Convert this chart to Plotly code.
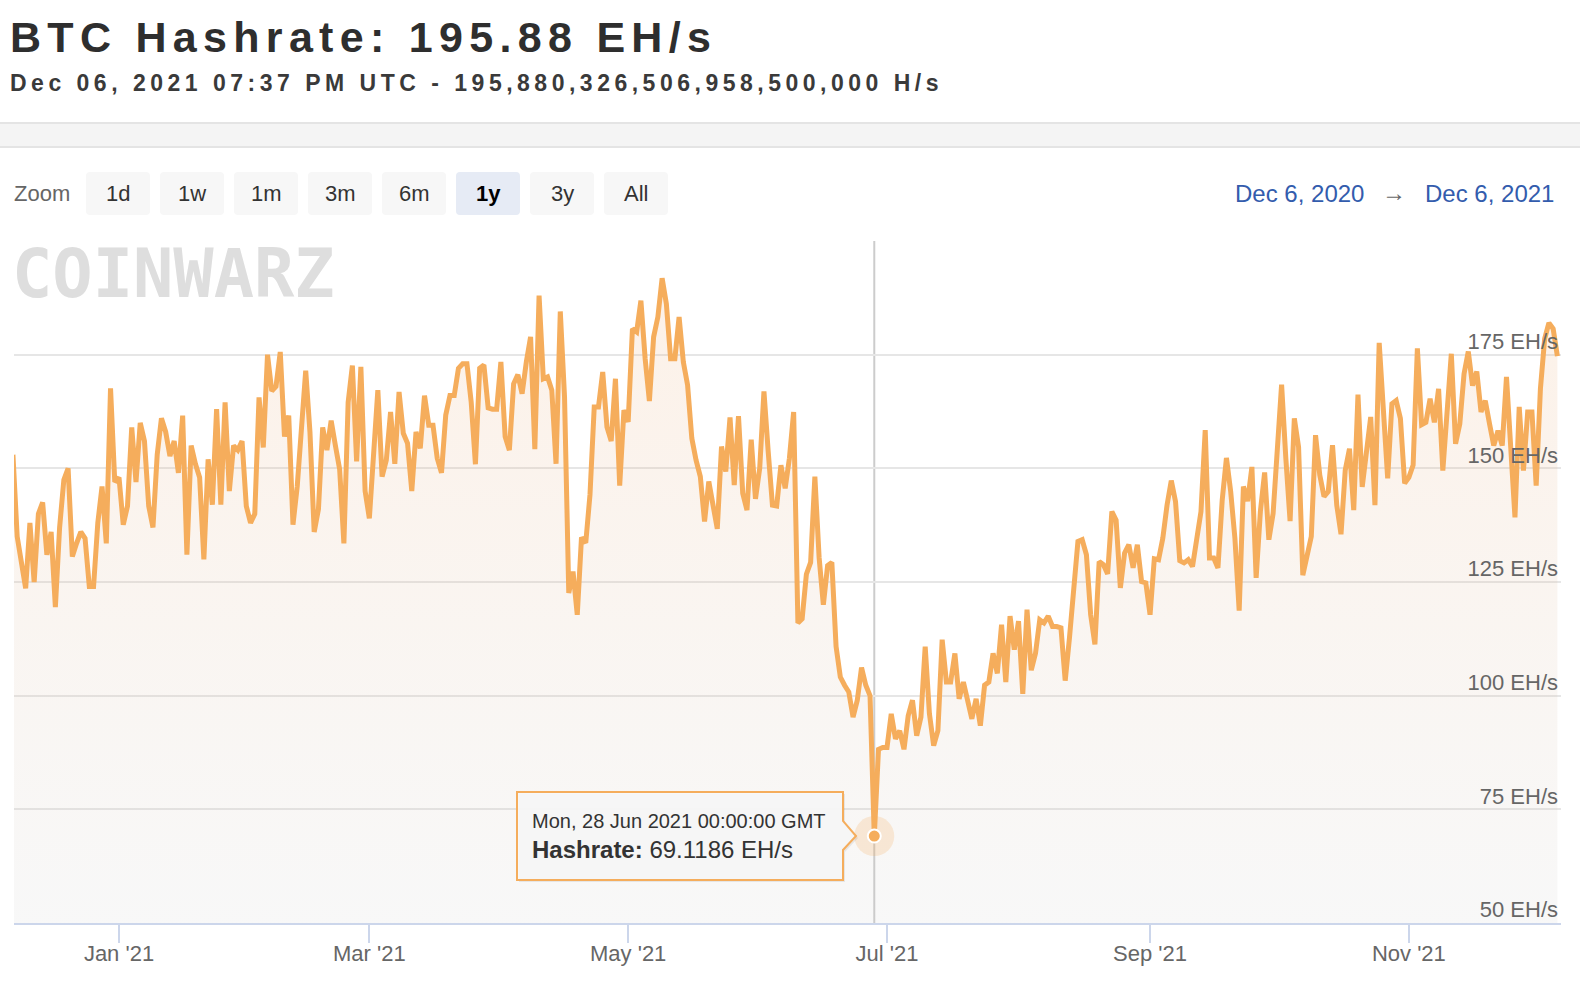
import pandas as pd
import plotly.graph_objects as go

# ---------------- data ----------------
start_date = "2020-12-07"
hashrate_ehs = [
    153, 135, None, 123.6, 138, 125, 140, 142.5, 131, 136,
    119.5, 137, 147.5, 150, 130.6, 133.5, 136, 134.6, 124, 124,
    138, 146, 133.5, 167.6, 147, 148, 137.6, 141.7, 159, 147,
    160, 156, 141.7, 137, 153, 161, 158, 152.7, 156, 149,
    161.6, 131, 155, 151, 148, 130, 152, 142, 163, 142,
    164.5, 145, 155, 154, 156, 141.7, 138, 140, 165.6, 154.6,
    175, 167, 168, 175.6, 157, 161.6, 137.6, 146, None, 171.5,
    158, 136, 141, 159, 154, 160.5, 155, 149.8, 133.5, 164.5,
    172.6, 151.5, 172.3, 145, 139, 151.5, 167.2, 148.2, 151.8, 162.4,
    151, 166.8, 157.7, 155.5, 145, 158, 154.4, 166, 159.5, 159.5,
    152.2, 149, 161.7, 166, 166, 172, 173, 173, 164.6, 150.9,
    172, 172.7, 163.3, 163, 163, 173.4, 157, 154, 168.6, 170.6,
    166.4, 173.4, 178.9, 154.2, 188, 169.7, 170.1, 167.2, 151, 184.5,
    165.7, 122.6, 127.3, 117.8, 134.8, 133.6, 144.2, 163.5, 163.5, 171.2,
    159.1, 156, 169.7, 146.2, 162.8, 160.2, 180.7, 180, 186.9, 174.1,
    164.8, 178.9, 183.3, 191.8, 186.2, 174.1, 174.1, 183.3, 173.4, 168.3,
    156.6, 151.8, 148.2, 138.3, 147.1, None, 136.7, 154.8, 149.3, 161.2,
    146.3, 161.5, 144.5, 140.8, 156.3, 143.3, 150, 166.9, 153.7, 141.9,
    141.7, 150.7, 145.6, 152.2, 162.4, 116, 116.9, 126.7, 129.3, 148.2,
    130.4, 120, 128.6, 129.3, 110.8, 104.1, 102.3, 100.8, 95.3, 99,
    106.2, 102.3, 100, 69.1186, 88.2, 88.6, 88.6, 96, 90.5, 92.3,
    88.2, 95.6, 99, 91.2, 95.3, 110.8, 96, 89, 92.3, 112.3,
    103, 103, 109.3, 99.3, 103, 99, 94.9, 99.3, 93.4, 102.3,
    103, 109.3, 104.9, 115.6, 103, 117.5, 110.1, 116.4, 100.4, 118.9,
    105.6, 109.3, 116.7, 116, 117.5, 115.2, 115.2, 114.9, 103.3, 112.7,
    125.1, 133.9, 134.3, 131, 117.8, 111.3, 129.5, 128.8, 126.8, 140.5,
    138.6, 123.7, 131.4, 133.2, 128.1, 133.2, 125.1, 124.8, 117.8, 130.1,
    129.9, 134.6, 141.9, 147.3, 142.7, 129.7, 129.2, 129.9, 128.4, 134.3,
    140.5, 158.4, 130.3, 130.3, 128.1, 143, 152.3, 144.9, 134.6, 118.7,
    146, 142.8, 150.3, 125.9, 140.5, 149.1, 134.3, 140.1, 154.7, 168.4,
    152.2, 138.4, 161, 154.7, 126.5, 130.3, 135, 157.3, 148.5, 143.8,
    144.9, 155.1, 141.9, 135.5, 149.6, 154.3, 140.8, 166.2, 145.9, 153.6,
    161.3, 141.9, 177.6, 162.7, 147.8, 164.2, 164.9, 161, 146.7, 148,
    150.7, 176.4, 159.6, 160.1, 165.3, 160.1, 167.5, 149.5, 163.1, 175.2,
    155.4, 159.8, 170.8, 175.7, 168.2, 171.3, 162.4, 164.9, 159.8, 155,
    158.3, 155, 170.1, 156.5, 139.2, 163.5, 149.5, 162.4, 162.4, 146.2,
    167.5, 178.5, 182, 180.7, 174.7,
]
dates = pd.date_range(start_date, periods=len(hashrate_ehs), freq="D")

y_tick_values = [50, 75, 100, 125, 150, 175, 200]
x_range = ["2020-12-07 06:00", "2021-12-06 20:24"]
highlight_date = "2021-06-28"

title_text = "BTC Hashrate: 195.88 EH/s"
subtitle_text = "Dec 06, 2021 07:37 PM UTC - 195,880,326,506,958,500,000 H/s"
zoom_buttons = ["1d", "1w", "1m", "3m", "6m", "1y", "3y", "All"]
active_button = "1y"
range_from_text = "Dec 6, 2020"
range_to_text = "Dec 6, 2021"
watermark_text = "COINWARZ"

# ---------------- styles / layout geometry ----------------
W, H = 1580, 995
L, R, T, B = 14, 1561, 241, 923
FONT = "Liberation Sans, Arial, sans-serif"
LINE = "#f5ad5c"


def px(x, y):
    return (x - L) / (R - L), (B - y) / (B - T)


def P(x, y):
    a, b = px(x, y)
    return f"{a:.5f},{b:.5f}"


def rrect(x0, y0, x1, y1, r):
    return (f"M {P(x0 + r, y0)} L {P(x1 - r, y0)} Q {P(x1, y0)} {P(x1, y0 + r)} "
            f"L {P(x1, y1 - r)} Q {P(x1, y1)} {P(x1 - r, y1)} L {P(x0 + r, y1)} "
            f"Q {P(x0, y1)} {P(x0, y1 - r)} L {P(x0, y0 + r)} Q {P(x0, y0)} {P(x0 + r, y0)} Z")


fig = go.Figure()

fig.add_trace(go.Scatter(
    x=dates, y=hashrate_ehs, mode="lines", connectgaps=True,
    line=dict(color=LINE, width=5),
    fill="tozeroy",
    fillgradient=dict(type="vertical", start=50, stop=190,
                      colorscale=[[0, "rgba(200,200,200,0.13)"], [1, "rgba(240,170,110,0.16)"]]),
    hoverinfo="skip",
))

hl_idx = list(dates).index(pd.Timestamp(highlight_date))
hl_val = hashrate_ehs[hl_idx]
fig.add_trace(go.Scatter(x=[dates[hl_idx]], y=[hl_val], mode="markers",
                         marker=dict(size=40, color="rgba(245,173,92,0.22)"), hoverinfo="skip"))
fig.add_trace(go.Scatter(x=[dates[hl_idx]], y=[hl_val], mode="markers",
                         marker=dict(size=13, color=LINE, line=dict(color="white", width=2)),
                         hoverinfo="skip"))

shapes = []
# crosshair
shapes.append(dict(type="line", xref="x", yref="paper", x0=dates[hl_idx], x1=dates[hl_idx],
                   y0=0, y1=1, line=dict(color="#cccccc", width=2), layer="below"))
# grey header band
a0, b0 = px(-5, 123)
a1, b1 = px(W + 5, 147)
shapes.append(dict(type="rect", xref="paper", yref="paper", x0=a0, x1=a1, y0=b1, y1=b0,
                   fillcolor="#f4f4f4", line=dict(color="#e4e4e4", width=2), layer="above"))
# zoom buttons
btn_x0, btn_w, btn_gap, btn_top, btn_bot = 86, 64, 10, 172, 215
for i, lab in enumerate(zoom_buttons):
    x0 = btn_x0 + i * (btn_w + btn_gap)
    shapes.append(dict(type="path", xref="paper", yref="paper",
                       path=rrect(x0, btn_top, x0 + btn_w, btn_bot, 4),
                       fillcolor="#e6ebf5" if lab == active_button else "#f7f7f7",
                       line=dict(width=0), layer="above"))
# tooltip shadow + box
tt = [(517, 792), (843, 792), (843, 821), (856, 836), (843, 850), (843, 880), (517, 880)]
shadow_path = "M " + " L ".join(P(x + 2, y + 2) for x, y in tt) + " Z"
box_path = "M " + " L ".join(P(x, y) for x, y in tt) + " Z"
shapes.append(dict(type="path", xref="paper", yref="paper", path=shadow_path,
                   fillcolor="rgba(0,0,0,0.07)", line=dict(width=0), layer="above"))
shapes.append(dict(type="path", xref="paper", yref="paper", path=box_path,
                   fillcolor="rgba(247,247,247,0.92)", line=dict(color=LINE, width=2), layer="above"))


def label(text, x, y, size, color, xanchor="left", family=FONT, weight="normal"):
    ax, ay = px(x, y)
    fig.add_annotation(x=ax, y=ay, xref="paper", yref="paper", text=text, showarrow=False,
                       xanchor=xanchor, yanchor="middle",
                       font=dict(size=size, color=color, family=family, weight=weight))


label(f'<span style="letter-spacing:6.3px">{title_text}</span>', 8, 37, 43, "#2e2e2e", weight="bold")
label(f'<span style="letter-spacing:4.5px">{subtitle_text}</span>', 8, 83, 23, "#3a3a3a", weight="bold")
label("Zoom", 12, 193, 22, "#666666")
for i, lab in enumerate(zoom_buttons):
    cx = btn_x0 + i * (btn_w + btn_gap) + btn_w / 2
    if lab == active_button:
        label(f"<b>{lab}</b>", cx, 193, 22, "#000000", xanchor="center")
    else:
        label(lab, cx, 193, 22, "#333333", xanchor="center")
label(range_from_text, 1233, 193, 24, "#335cad")
label("→", 1394, 192, 24, "#666666", xanchor="center")
label(range_to_text, 1423, 193, 24, "#335cad")
label(watermark_text, 10, 274, 67, "#dedede", family="DejaVu Sans Mono", weight="bold")

hl_day = dates[hl_idx]
label(f"{hl_day:%a, %d %b %Y} 00:00:00 GMT", 530, 821, 20, "#333333")
label(f"<b>Hashrate:</b> {hl_val:g} EH/s", 530, 849.5, 24, "#333333")

fig.update_layout(
    width=W, height=H,
    margin=dict(l=L, r=W - R, t=T, b=H - B, pad=0),
    paper_bgcolor="white", plot_bgcolor="white",
    showlegend=False, hovermode=False,
    shapes=shapes,
    font=dict(family=FONT),
    xaxis=dict(range=x_range, type="date", tickformat="%b '%y", dtick="M2", tick0="2021-01-01",
               ticks="outside", ticklen=18, tickwidth=2, tickcolor="#ccd6eb",
               showline=True, linecolor="#ccd6eb", linewidth=2, showgrid=False, zeroline=False,
               tickfont=dict(size=22, color="#666666", family=FONT), ticklabelstandoff=-8),
    yaxis=dict(range=[50, 200], side="right", tickvals=y_tick_values,
               ticktext=[f"{v} EH/s" if v < 200 else "" for v in y_tick_values],
               ticklabelposition="inside top", ticks="", ticklabelshift=2,
               tickfont=dict(size=22, color="#666666", family=FONT),
               showgrid=True, gridcolor="#e6e6e6", gridwidth=2, zeroline=False, showline=False),
)

fig.write_html("out.html", config={"displayModeBar": False},
               post_script="document.body.style.margin='0';document.body.style.overflow='hidden';")
